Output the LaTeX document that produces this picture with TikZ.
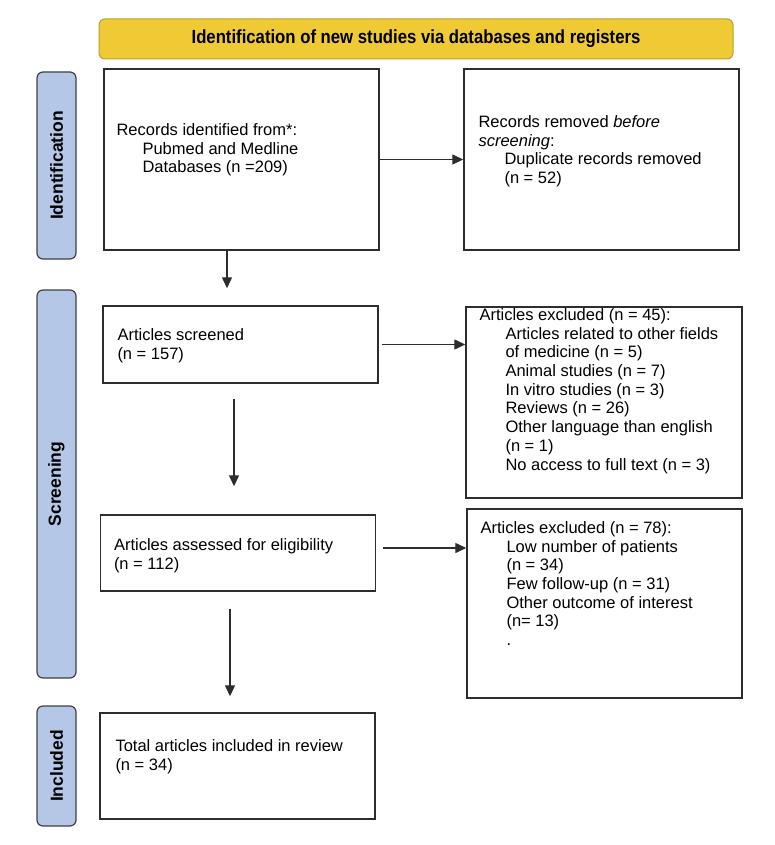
\documentclass[tikz,border=0pt]{standalone}
\usepackage{fontspec}
\setmainfont{Liberation Sans}
\newfontfamily\bannerfont[FakeStretch=0.88]{Liberation Sans}
\usetikzlibrary{positioning}
\usetikzlibrary{calc}
\usetikzlibrary{arrows.meta}

\definecolor{bannerfill}{RGB}{239,202,52}
\definecolor{bannerline}{RGB}{190,160,40}
\definecolor{phasefill}{RGB}{180,199,231}
\definecolor{phaseline}{RGB}{64,64,64}
\definecolor{boxline}{RGB}{45,45,45}

\begin{document}
\begin{tikzpicture}[
    x=1pt, y=-1pt,
    banner/.style={draw=bannerline, fill=bannerfill, line width=1pt, rounded corners=6pt,
        minimum width=634pt, minimum height=40pt, font=\bannerfont\bfseries\fontsize{19}{22}\selectfont},
    phase/.style={draw=phaseline, fill=phasefill, line width=1.2pt, rounded corners=6pt,
        rotate=90, minimum height=39pt, inner sep=0pt, font=\bfseries\fontsize{17.5}{20}\selectfont},
    box/.style={draw=boxline, line width=1.4pt, minimum width=275pt, inner sep=0pt},
    boxtext/.style={anchor=north west, inner sep=0pt, align=left, font=\fontsize{16.5}{18.7}\selectfont},
    arr/.style={-{Triangle[length=11pt,width=10pt]}, line width=1.3pt, draw=boxline}
]

    \newcommand*{\ind}{\hspace*{26pt}}

    \useasboundingbox (0,0) rectangle (775,845);

    % Banner
    \node[banner] (banner) at (416,39) {Identification of new studies via databases and registers};

    % Phases
    \node[phase, minimum width=187pt] (idphase) at (56.5,165.5) {Identification};
    \node[phase, minimum width=388pt] (scrphase) at (56.5,484) {Screening};
    \node[phase, minimum width=120pt] (incphase) at (56.5,766) {Included};

    % Boxes
    \node[box, minimum height=181pt] (rec) at (241.5,159.5) {};
    \node[box, minimum height=181pt] (dup) at (601.5,159.5) {};
    \node[box, minimum height=77pt] (scr) at (240.5,344.5) {};
    \node[box, minimum height=191pt, minimum width=276pt] (excla) at (604,402.5) {};
    \node[box, minimum height=76pt] (elig) at (238,553) {};
    \node[box, minimum height=189pt] (exclb) at (604.5,603.5) {};
    \node[box, minimum height=106pt] (incl) at (237.5,766) {};

    % Box texts
    \node[boxtext] (rectext) at ([xshift=13pt,yshift=-55pt]rec.north west)
        {Records identified from*:\\ \ind Pubmed and Medline\\ \ind Databases (n =209)};
    \node[boxtext] (duptext) at ([xshift=15pt,yshift=-47pt]dup.north west)
        {Records removed \textit{before}\\ \textit{screening}:\\ \ind Duplicate records removed\\ \ind (n = 52)};
    \node[boxtext] (scrtext) at ([xshift=15pt,yshift=-23pt]scr.north west)
        {Articles screened\\ (n = 157)};
    \node[boxtext] (exclatext) at ([xshift=14pt,yshift=-2pt]excla.north west)
        {Articles excluded (n = 45):\\
         \ind Articles related to other fields\\
         \ind of medicine (n = 5)\\
         \ind Animal studies (n = 7)\\
         \ind In vitro studies (n = 3)\\
         \ind Reviews (n = 26)\\
         \ind Other language than english\\
         \ind (n = 1)\\
         \ind No access to full text (n = 3)};
    \node[boxtext] (eligtext) at ([xshift=14pt,yshift=-24pt]elig.north west)
        {Articles assessed for eligibility\\ (n = 112)};
    \node[boxtext] (exclbtext) at ([xshift=14pt,yshift=-13pt]exclb.north west)
        {Articles excluded (n = 78):\\
         \ind Low number of patients\\
         \ind (n = 34)\\
         \ind Few follow-up (n = 31)\\
         \ind Other outcome of interest\\
         \ind (n= 13)\\
         \ind .};
    \node[boxtext] (incltext) at ([xshift=16pt,yshift=-27pt]incl.north west)
        {Total articles included in review\\ (n = 34)};

    % Arrows
    \draw[arr] (rec.east) -- (dup.west);
    \draw[arr, shorten >=17pt] ([xshift=-14.5pt]rec.south) -- ([xshift=-14.5pt]rec.south |- scr.north);
    \draw[arr, shorten <=3pt] (scr.east) -- (scr.east -| excla.west);
    \draw[arr, shorten <=15pt, shorten >=28pt] ([xshift=-6.5pt]scr.south) -- ([xshift=-6.5pt]scr.south |- elig.north);
    \draw[arr, shorten <=7pt] ([yshift=5pt]elig.east) -- ([yshift=5pt]elig.east -| exclb.west);
    \draw[arr, shorten <=17pt, shorten >=16pt] ([xshift=-8pt]elig.south) -- ([xshift=-8pt]elig.south |- incl.north);

\end{tikzpicture}
\end{document}
